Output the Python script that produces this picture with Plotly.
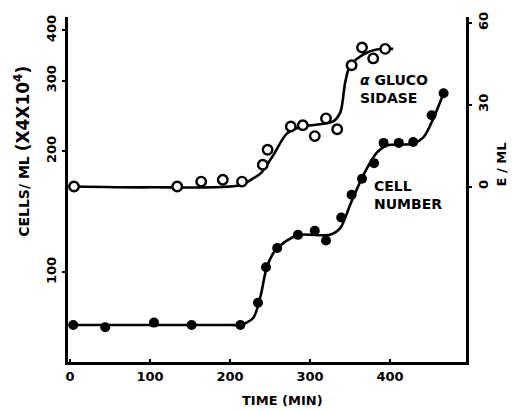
import plotly.graph_objects as go

# ---- data ----
time_cells = [4, 44, 105, 152, 213, 235, 245, 259, 285, 306, 320, 339, 352, 365, 380, 392, 411, 429, 452, 467]
cells = [74, 73, 75, 74, 74, 84, 103, 115, 124, 127, 120, 137, 156, 171, 187, 210, 210, 211, 246, 279]

time_gluc = [5, 134, 164, 191, 215, 241, 247, 276, 291, 306, 320, 334, 352, 365, 379, 394]
gluc = [0, 0, 1.8, 2.5, 1.8, 8, 13.5, 22, 22.5, 18.5, 25, 21, 44.5, 51, 47, 50.5]

# hand-drawn fitted curves
cell_curve_t = [4, 100, 200, 213, 229, 238, 246, 256, 271, 288, 325, 338, 350, 367, 383, 396, 429, 442, 454, 467]
cell_curve = [74, 74, 74, 74, 77, 87, 103, 113, 120, 124, 124, 129, 147, 175, 198, 207, 209, 217, 241, 279]

gluc_curve_t = [5, 100, 213, 229, 238, 254, 271, 288, 329, 338, 344, 350, 367, 383, 404]
gluc_curve = [0, -0.3, 0.5, 3, 4.7, 11.5, 19.4, 21.8, 23.9, 27.3, 38.2, 44.3, 48.5, 50.3, 50.5]

x_ticks = [0, 100, 200, 300, 400]
left_ticks = [100, 200, 300, 400]
right_ticks = [0, 30, 60]

FONT = "DejaVu Sans"

fig = go.Figure()

fig.add_trace(go.Scatter(x=cell_curve_t, y=cell_curve, mode="lines",
                         line=dict(color="black", width=2.6, shape="spline", smoothing=0.8),
                         hoverinfo="skip", showlegend=False))
fig.add_trace(go.Scatter(x=time_cells, y=cells, mode="markers",
                         marker=dict(color="black", size=10, symbol="circle"),
                         showlegend=False))
fig.add_trace(go.Scatter(x=gluc_curve_t, y=gluc_curve, mode="lines", yaxis="y2",
                         line=dict(color="black", width=2.6, shape="spline", smoothing=0.8),
                         hoverinfo="skip", showlegend=False))
fig.add_trace(go.Scatter(x=time_gluc, y=gluc, mode="markers", yaxis="y2",
                         marker=dict(color="white", size=9.5, symbol="circle",
                                     line=dict(color="black", width=2.4)),
                         showlegend=False))

tickfont = dict(family=FONT, size=13, color="black", weight="bold")
titlefont = dict(family=FONT, size=13, color="black", weight="bold")

fig.update_layout(
    width=513, height=411,
    margin=dict(l=68, r=47, t=14, b=49),
    paper_bgcolor="white", plot_bgcolor="white",
    xaxis=dict(range=[-2.5, 495], tickvals=x_ticks, showgrid=False, zeroline=False,
               showline=True, linecolor="black", linewidth=3,
               ticks="inside", ticklen=3, tickwidth=2, tickcolor="black",
               tickfont=tickfont),
    yaxis=dict(type="log", range=[1.777, 2.6355], tickvals=left_ticks, showgrid=False,
               zeroline=False, showline=True, linecolor="black", linewidth=3,
               ticks="outside", ticklen=3, tickwidth=2, tickcolor="black",
               tickangle=-90, tickfont=tickfont, ticklabelstandoff=1),
    yaxis2=dict(overlaying="y", side="right", range=[-64.4, 62.2], tickvals=right_ticks,
                showgrid=False, zeroline=False, showline=True, linecolor="black", linewidth=3,
                ticks="outside", ticklen=3, tickwidth=2, tickcolor="black",
                tickangle=-90, tickfont=tickfont, ticklabelstandoff=0),
    annotations=[
        dict(x=-0.1156, y=0.612, xref="paper", yref="paper", xanchor="center", yanchor="middle",
             textangle=-90, showarrow=False,
             text="CELLS/ ML <span style='font-size:17px'>(X4X10<sup>4</sup>)</span>",
             font=dict(family=FONT, size=14, color="black", weight="bold")),
        dict(x=1.09, y=0.572, xref="paper", yref="paper", xanchor="center", yanchor="middle",
             textangle=-90, showarrow=False, text="E / ML",
             font=dict(family=FONT, size=13, color="black", weight="bold")),
        dict(x=0.538, y=-0.112, xref="paper", yref="paper", xanchor="center", yanchor="middle",
             showarrow=False, text="TIME (MIN)", font=titlefont),
        dict(x=360, y=0.792, xref="x", yref="paper", xanchor="left", yanchor="middle",
             text="<i>α</i> GLUCO<br>SIDASE", showarrow=False, align="left",
             font=dict(family=FONT, size=14, color="black", weight="bold")),
        dict(x=377, y=0.483, xref="x", yref="paper", xanchor="left", yanchor="middle",
             text="CELL<br>NUMBER", showarrow=False, align="left",
             font=dict(family=FONT, size=14, color="black", weight="bold")),
    ],
)

fig.write_html("out.html", config={"displayModeBar": False},
               post_script="document.body.style.margin='0';document.body.style.overflow='hidden';")
